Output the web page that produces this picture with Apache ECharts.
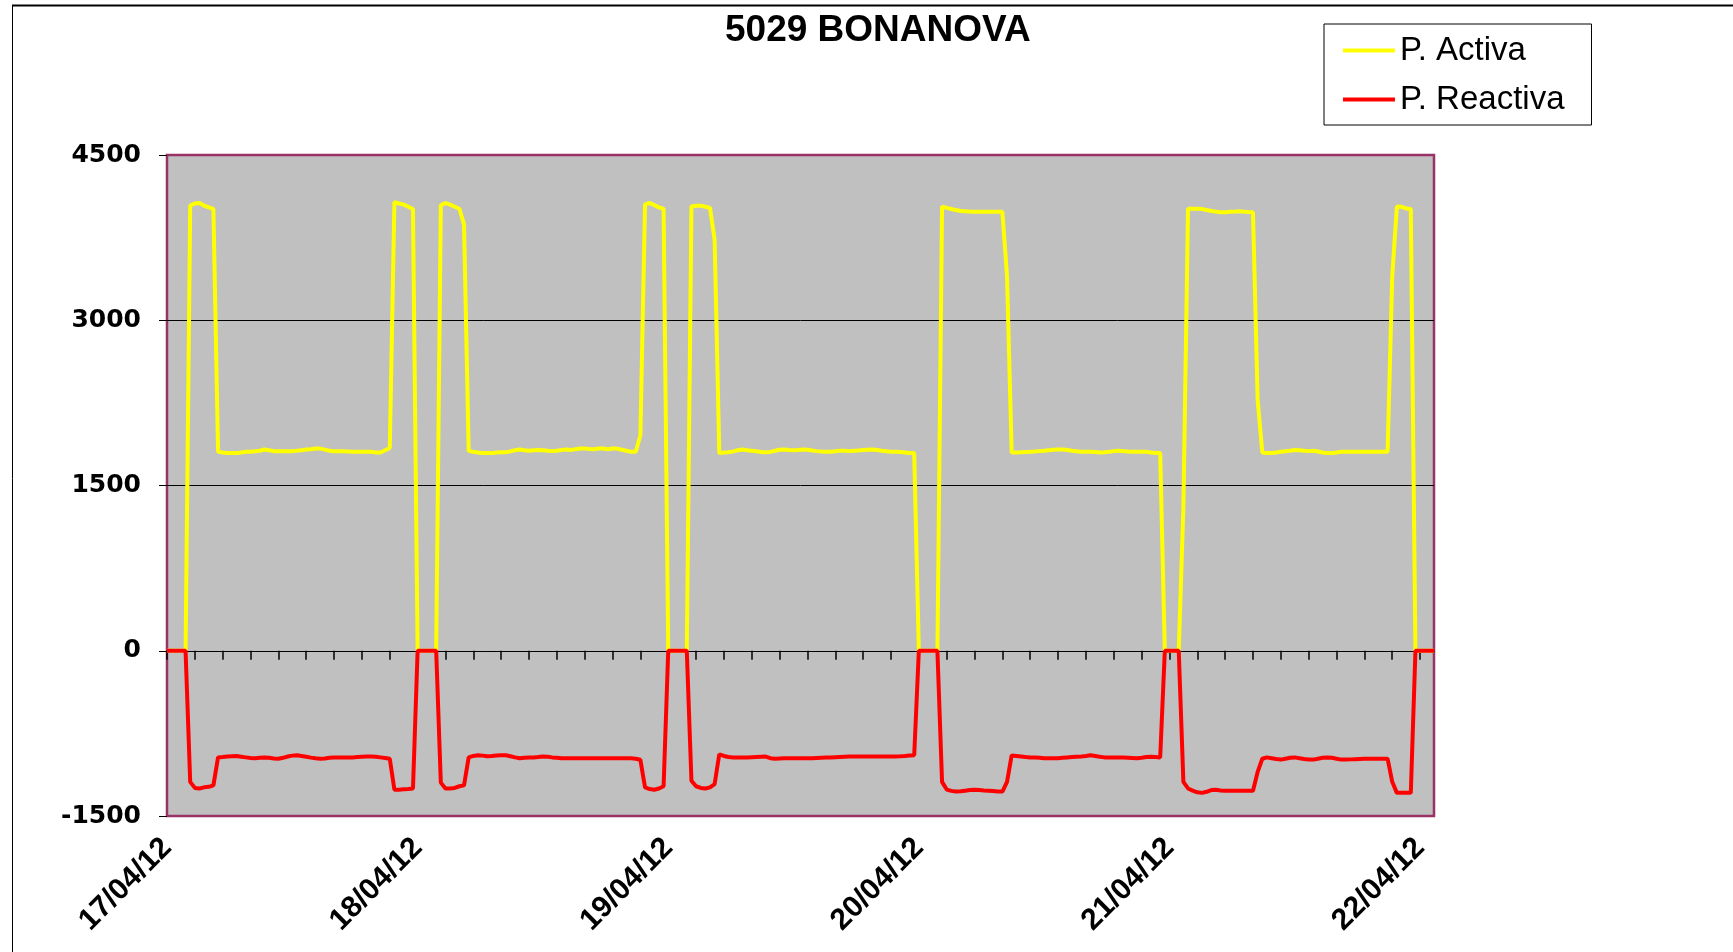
<!DOCTYPE html>
<html><head><meta charset="utf-8">
<script src="https://cdn.jsdelivr.net/npm/echarts@6/dist/echarts.min.js"></script>
<style>html,body{margin:0;padding:0;background:#fff}#c{width:1733px;height:952px}</style>
</head><body><div id="c"></div><script>
const chartTitle = '5029 BONANOVA';
const seriesNames = ['P. Activa', 'P. Reactiva'];
const dayLabels = ['17/04/12', '18/04/12', '19/04/12', '20/04/12', '21/04/12', '22/04/12'];
const pointsPerDay = 54;
const pointCount = 274;
const yMin = -1500, yMax = 4500, yStep = 1500;

const activa = [
  0,0,0,0,0,4040,4060,4064,4040,4025,
  4010,1806,1800,1796,1794,1794,1800,1806,1806,1810,
  1815,1827,1820,1812,1810,1810,1810,1812,1815,1820,
  1826,1830,1835,1835,1826,1815,1810,1810,1810,1808,
  1806,1806,1806,1806,1806,1800,1800,1820,1840,4072,
  4060,4050,4030,4010,0,0,0,0,0,4044,
  4064,4050,4030,4012,3870,1814,1806,1800,1796,1794,
  1794,1800,1802,1802,1810,1820,1827,1820,1815,1820,
  1823,1820,1815,1812,1815,1823,1827,1823,1830,1835,
  1835,1832,1830,1835,1835,1830,1835,1835,1825,1815,
  1806,1806,1956,4052,4064,4045,4025,4012,0,0,
  0,0,0,4032,4040,4040,4030,4020,3730,1794,
  1800,1802,1810,1820,1827,1820,1815,1810,1805,1802,
  1805,1815,1825,1827,1822,1820,1822,1827,1825,1818,
  1812,1808,1806,1806,1810,1815,1815,1812,1815,1818,
  1822,1825,1827,1822,1815,1810,1806,1806,1804,1800,
  1796,1794,0,0,0,0,0,4032,4020,4010,
  4000,3992,3990,3986,3984,3984,3984,3984,3984,3984,
  3984,3400,1800,1800,1802,1805,1806,1808,1812,1815,
  1820,1825,1827,1827,1822,1815,1810,1806,1806,1806,
  1804,1800,1802,1806,1812,1815,1812,1808,1806,1806,
  1806,1806,1800,1796,1794,0,0,0,0,1300,
  4012,4012,4012,4010,4000,3992,3986,3980,3980,3984,
  3986,3990,3986,3982,3980,2280,1800,1794,1796,1800,
  1806,1810,1815,1823,1820,1815,1812,1815,1808,1800,
  1794,1796,1800,1806,1806,1806,1806,1806,1806,1806,
  1806,1806,1806,1806,3400,4032,4030,4015,4010,0,
  0,0,0,0
];

const reactiva = [
  0,0,0,0,0,-1190,-1245,-1250,-1240,-1235,
  -1222,-968,-965,-960,-958,-956,-962,-968,-974,-976,
  -972,-968,-972,-978,-980,-972,-960,-952,-948,-955,
  -962,-970,-976,-980,-978,-972,-968,-968,-968,-968,
  -968,-965,-962,-960,-960,-962,-968,-974,-980,-1262,
  -1262,-1258,-1255,-1250,0,0,0,0,0,-1197,
  -1250,-1250,-1245,-1230,-1222,-968,-955,-948,-952,-958,
  -955,-950,-948,-948,-958,-968,-976,-972,-968,-968,
  -965,-960,-962,-968,-972,-976,-976,-976,-976,-976,
  -976,-976,-976,-976,-976,-976,-976,-976,-976,-976,
  -976,-980,-990,-1240,-1255,-1262,-1250,-1230,0,0,
  0,0,0,-1180,-1230,-1245,-1250,-1240,-1210,-940,
  -955,-965,-968,-968,-968,-968,-966,-964,-962,-960,
  -975,-980,-978,-976,-976,-976,-976,-976,-976,-976,
  -974,-972,-970,-968,-966,-964,-962,-960,-960,-960,
  -960,-960,-960,-960,-960,-960,-960,-960,-958,-955,
  -950,-948,0,0,0,0,0,-1190,-1260,-1272,
  -1278,-1275,-1270,-1265,-1262,-1265,-1268,-1270,-1274,-1278,
  -1278,-1190,-950,-955,-960,-965,-968,-970,-972,-975,
  -976,-976,-976,-972,-968,-965,-962,-960,-955,-948,
  -955,-962,-968,-968,-968,-968,-970,-972,-974,-976,
  -972,-965,-962,-965,-968,0,0,0,0,-1190,
  -1250,-1270,-1285,-1290,-1280,-1265,-1262,-1268,-1270,-1270,
  -1270,-1270,-1270,-1270,-1270,-1100,-980,-968,-975,-982,
  -988,-980,-972,-968,-975,-982,-988,-988,-980,-972,
  -968,-972,-980,-988,-988,-986,-984,-982,-980,-980,
  -980,-980,-980,-980,-1190,-1290,-1290,-1290,-1290,0,
  0,0,0,0
];

const categories = [];
for (let i = 0; i < pointCount; i++) {
  categories.push(dayLabels[Math.floor(i / pointsPerDay)] + ' #' + (i % pointsPerDay));
}

const chart = echarts.init(document.getElementById('c'), null, {renderer: 'canvas'});
chart.setOption({
  animation: false,
  backgroundColor: '#ffffff',
  title: {
    text: chartTitle, left: 725, top: 12, padding: 0,
    textStyle: {fontFamily: 'Liberation Sans', fontWeight: 'bold', fontSize: 37, color: '#000'}
  },
  legend: {
    data: seriesNames, orient: 'vertical', left: 1324, top: 24,
    padding: [10, 27, 9, 19], itemGap: 16, itemWidth: 52, itemHeight: 4, icon: 'rect',
    backgroundColor: '#fff', borderColor: '#000', borderWidth: 1, borderRadius: 0,
    textStyle: {fontFamily: 'Liberation Sans', fontSize: 33, color: '#000'}
  },
  grid: {
    left: 167, right: 299, top: 155, bottom: 136, show: true,
    backgroundColor: '#C0C0C0', borderColor: '#993366', borderWidth: 2.5
  },
  xAxis: [
    {
      type: 'category', position: 'bottom', data: categories, boundaryGap: false,
      axisLine: {show: false, onZero: false}, axisTick: {show: false}, splitLine: {show: false},
      axisLabel: {
        interval: pointsPerDay - 1, rotate: 45, margin: 27,
        fontFamily: 'Liberation Sans', fontWeight: 'bold', fontSize: 30, color: '#000',
        formatter: v => v.split(' ')[0]
      }
    },
    {
      type: 'category', position: 'top', data: categories, boundaryGap: false,
      axisLine: {show: true, onZero: true, lineStyle: {color: '#000', width: 1}},
      axisTick: {show: true, interval: 5, inside: true, length: 9, lineStyle: {color: '#000', width: 1.5}},
      axisLabel: {show: false}, splitLine: {show: false}
    }
  ],
  yAxis: {
    type: 'value', min: yMin, max: yMax, interval: yStep,
    axisLine: {show: false},
    axisTick: {show: true, length: 8, lineStyle: {color: '#000', width: 1}},
    splitLine: {show: true, showMinLine: false, showMaxLine: false, lineStyle: {color: '#000', width: 1}},
    axisLabel: {margin: 26, fontFamily: 'DejaVu Sans', fontWeight: 'bold', fontSize: 25, color: '#000',
      formatter: v => String(v)}
  },
  graphic: [
    {type: 'line', shape: {x1: 12.5, y1: 5, x2: 12.5, y2: 952}, style: {stroke: '#000', lineWidth: 1}},
    {type: 'line', shape: {x1: 12, y1: 5.5, x2: 1733, y2: 5.5}, style: {stroke: '#000', lineWidth: 2}}
  ],
  series: [
    {name: seriesNames[0], type: 'line', data: activa, xAxisIndex: 0, showSymbol: false,
     lineStyle: {color: '#FFFF00', width: 4}, itemStyle: {color: '#FFFF00'}},
    {name: seriesNames[1], type: 'line', data: reactiva, xAxisIndex: 0, showSymbol: false,
     lineStyle: {color: '#FF0000', width: 4}, itemStyle: {color: '#FF0000'}}
  ]
});
</script></body></html>
